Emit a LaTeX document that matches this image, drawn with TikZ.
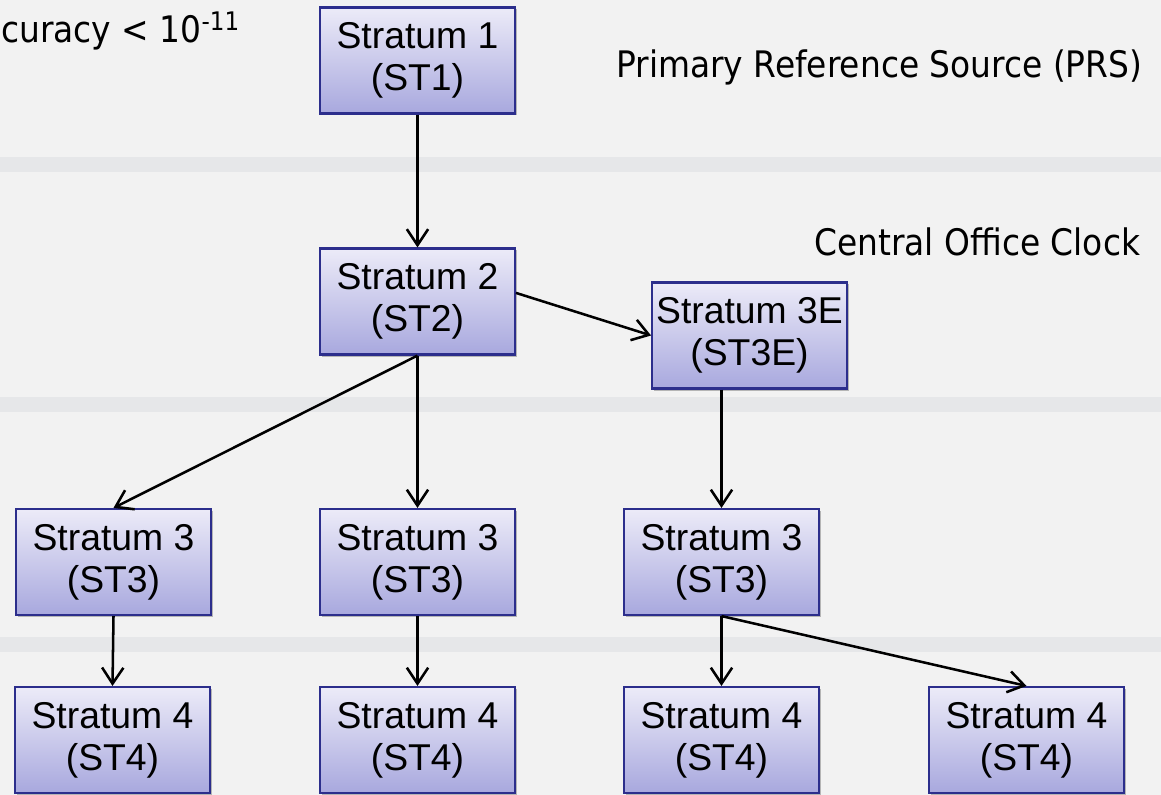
\documentclass[tikz,border=0pt]{standalone}
\usepackage{fontspec}
\setmainfont{Liberation Sans}
\newfontfamily\levelfont[FakeStretch=0.9]{DejaVu Sans}
\usetikzlibrary{arrows.meta,shadows}

\definecolor{bgGray}{RGB}{242,242,242}
\definecolor{bandGray}{RGB}{230,231,233}
\definecolor{boxTop}{RGB}{236,235,248}
\definecolor{boxBottom}{RGB}{168,168,222}
\definecolor{boxBorder}{RGB}{44,46,140}

\begin{document}
\begin{tikzpicture}[x=0.75pt,y=0.75pt,yscale=-1,xscale=1,
  stratum/.style={draw=boxBorder, line width=1.6pt, top color=boxTop, bottom color=boxBottom,
    minimum width=146pt, minimum height=79.5pt, inner sep=0pt, align=center,
    font=\fontsize{28}{31.5}\selectfont,
    drop shadow={shadow xshift=1.5pt, shadow yshift=-1.5pt, opacity=0.25, fill=black}},
  level/.style={font=\levelfont\fontsize{27.4}{32}\selectfont, inner sep=0pt},
  link/.style={-{Straight Barb[length=12pt,width=16pt]}, line width=1.9pt}]
\useasboundingbox (0,0) rectangle (1161,795);

%Background with the level bands
\fill[bgGray] (0,0) rectangle (1161,795);
\foreach \y in {157,397,637}
  \fill[bandGray] (0,\y) rectangle (1161,\y+15);

% Text Node
\node[level, anchor=base west] (acc) at (1,43) {curacy < 10\textsuperscript{-11}};
% Text Node
\node[level, anchor=base west] (prs) at (616,78) {Primary Reference Source (PRS)};
% Text Node
\node[level, anchor=base west] (coc) at (814,256) {Central Office Clock};

%Stratum boxes
\node[stratum] (st1) at (417.5,60.5) {Stratum 1\\(ST1)};
\node[stratum] (st2) at (417.5,301.5) {Stratum 2\\(ST2)};
\node[stratum] (st3e) at (749.5,335.5) {Stratum 3E\\(ST3E)};
\node[stratum] (st3a) at (113.5,562) {Stratum 3\\(ST3)};
\node[stratum] (st3b) at (417.5,562) {Stratum 3\\(ST3)};
\node[stratum] (st3c) at (721.5,562) {Stratum 3\\(ST3)};
\node[stratum] (st4a) at (112.5,740) {Stratum 4\\(ST4)};
\node[stratum] (st4b) at (417.5,740) {Stratum 4\\(ST4)};
\node[stratum] (st4c) at (721.5,740) {Stratum 4\\(ST4)};
\node[stratum] (st4d) at (1026.5,740) {Stratum 4\\(ST4)};

%Links
\draw[link] (st1.south) -- (st2.north);
\draw[link] (st2.5) -- (st3e.west);
\draw[link] (st2.south) -- (st3a.north);
\draw[link] (st2.south) -- (st3b.north);
\draw[link] (st3c.north |- st3e.south) -- (st3c.north);
\draw[link] (st3a.south) -- (st4a.north);
\draw[link] (st3b.south) -- (st4b.north);
\draw[link] (st3c.south) -- (st4c.north);
\draw[link] (st3c.south) -- (st4d.north);

\end{tikzpicture}
\end{document}
